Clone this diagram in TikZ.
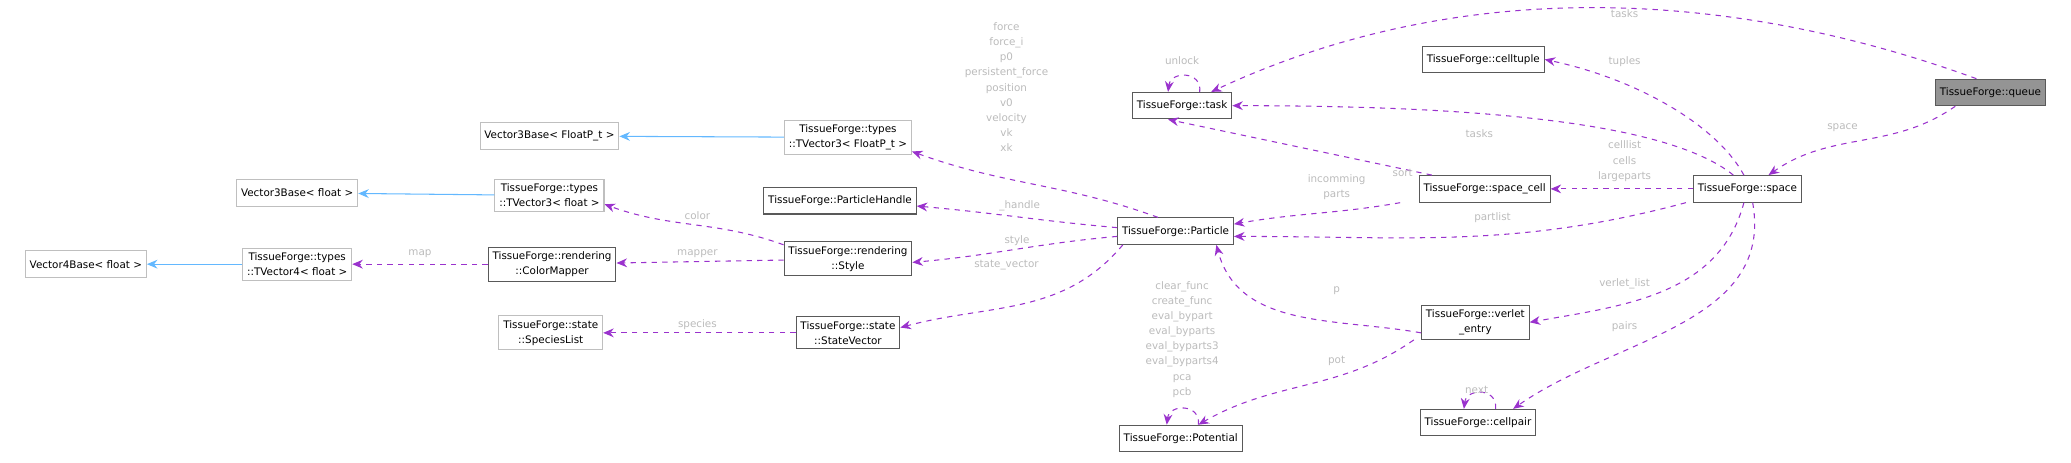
\documentclass[tikz,border=0pt]{standalone}
\usepackage{fontspec}
\setmainfont{DejaVu Sans}
\usetikzlibrary{arrows.meta}
\definecolor{edgepurple}{HTML}{9A32CD}
\definecolor{edgeblue}{HTML}{63B8FF}
\definecolor{lblgray}{HTML}{BBBBBB}
\begin{document}
\begin{tikzpicture}[
    x=0.0264cm, y=-0.0264cm,
    font=\fontsize{5.9}{8.6}\selectfont,
    cls/.style={draw=black!65, fill=white, semithick, minimum height=0.53cm, inner sep=2.5pt, align=center},
    ext/.style={cls, draw=black!25},
    cur/.style={cls, fill=black!42},
    usage/.style={-{Stealth[length=6pt,width=5pt]}, edgepurple, dashed, semithick},
    inherit/.style={-{Stealth[length=6pt,width=5pt]}, edgeblue, semithick},
    lbl/.style={text=lblgray, align=center, inner sep=0pt}
]
\useasboundingbox (0,0) rectangle (1568,350);

\node[cur] (queue) at (1507,70) {TissueForge::queue};
\node[cls] (task) at (895,80) {TissueForge::task};
\node[cls] (celltuple) at (1123,45) {TissueForge::celltuple};
\node[cls] (spacecell) at (1124,143) {TissueForge::space\_cell};
\node[cls] (space) at (1323,143) {TissueForge::space};
\node[cls] (particle) at (890,175) {TissueForge::Particle};
\node[cls] (handle) at (636,152) {TissueForge::ParticleHandle};
\node[ext] (tvecfp) at (642,104) {TissueForge::types\\::TVector3< FloatP\_t >};
\node[ext] (basefp) at (416,103) {Vector3Base< FloatP\_t >};
\node[ext] (tvecf) at (416,148) {TissueForge::types\\::TVector3< float >};
\node[ext] (basef) at (225,146) {Vector3Base< float >};
\node[cls] (style) at (642,196) {TissueForge::rendering\\::Style};
\node[cls] (mapper) at (418,200) {TissueForge::rendering\\::ColorMapper};
\node[ext] (tvec4) at (225,200) {TissueForge::types\\::TVector4< float >};
\node[ext] (base4) at (65,200) {Vector4Base< float >};
\node[ext] (species) at (417,252) {TissueForge::state\\::SpeciesList};
\node[cls] (statevec) at (642,252) {TissueForge::state\\::StateVector};
\node[cls] (verlet) at (1117,244) {TissueForge::verlet\\\_entry};
\node[cls] (potential) at (894,332) {TissueForge::Potential};
\node[cls] (cellpair) at (1119,320) {TissueForge::cellpair};

% inheritance
\draw[inherit] (tvecfp) -- (basefp);
\draw[inherit] (tvecf) -- (basef);
\draw[inherit] (tvec4) -- (base4);

% members
\draw[usage] ([xshift=-8pt]queue.north) to[out=160,in=25,looseness=0.9] ([xshift=-12pt]task.north east);
\draw[usage] ([xshift=-20pt]queue.south) to[out=-145,in=35] ([xshift=12pt]space.north);
\draw[usage] ([xshift=-2pt]space.north) .. controls (1300,95) and (1240,60) .. (celltuple.east);
\draw[usage] ([xshift=-8pt]space.north) .. controls (1260,90) and (1100,80) .. (task.east);
\draw[usage] (space) -- (spacecell);
\draw[usage] ([xshift=-35pt]space.south) to[out=195,in=0] ([yshift=-3pt]particle.east);
\draw[usage] ([xshift=-2pt]space.south) to[out=-105,in=10] (verlet.east);
\draw[usage] ([xshift=3pt]space.south) to[out=-80,in=35] ([xshift=20pt]cellpair.north);
\draw[usage] ([xshift=-30pt]spacecell.north) -- ([xshift=-8pt]task.south);
\draw[usage] ([xshift=-48pt]spacecell.south) to[out=190,in=10] ([yshift=4pt]particle.east);
\draw[usage] ([xshift=10pt]task.north) .. controls +(2,-16) and +(2,-16) .. ([xshift=-8pt]task.north);
\draw[usage] ([xshift=-10pt]particle.north) to[out=160,in=-20] ([yshift=-8pt]tvecfp.east);
\draw[usage] ([yshift=2pt]particle.west) to[out=175,in=-5] ([yshift=-3pt]handle.east);
\draw[usage] ([yshift=-3pt]particle.west) to[out=185,in=5] ([yshift=-2pt]style.east);
\draw[usage] ([xshift=-30pt]particle.south) to[out=-130,in=15] ([yshift=3pt]statevec.east);
\draw[usage] ([yshift=-6pt]verlet.west) to[out=170,in=-75] ([xshift=-10pt]particle.south east);
\draw[usage] ([xshift=-35pt]verlet.south) to[out=-145,in=30] ([xshift=10pt]potential.north);
\draw[usage] ([xshift=10pt]potential.north) .. controls +(2,-16) and +(2,-16) .. ([xshift=-8pt]potential.north);
\draw[usage] ([xshift=10pt]cellpair.north) .. controls +(2,-16) and +(2,-16) .. ([xshift=-8pt]cellpair.north);
\draw[usage] ([yshift=8pt]style.west) to[out=160,in=-20] ([yshift=-5pt]tvecf.east);
\draw[usage] (style) -- (mapper);
\draw[usage] (mapper) -- (tvec4);
\draw[usage] (statevec) -- (species);

% labels
\node[lbl] (ltasksq) at (1230,10) {tasks};
\node[lbl] (lunlock) at (895,46) {unlock};
\node[lbl] (ltuples) at (1230,47) {tuples};
\node[lbl] (ltasks) at (1120,101) {tasks};
\node[lbl] (lsort) at (1062,131) {sort};
\node[lbl] (lcells) at (1230,122) {celllist\\cells\\largeparts};
\node[lbl] (lparts) at (1012,142) {incomming\\parts};
\node[lbl] (lpartlist) at (1130,165) {partlist};
\node[lbl] (lspace) at (1395,97) {space};
\node[lbl] (lverlet) at (1230,215) {verlet\_list};
\node[lbl] (lpairs) at (1230,247) {pairs};
\node[lbl] (lp) at (1012,220) {p};
\node[lbl] (lpot) at (1012,273) {pot};
\node[lbl] (lfunc) at (895,257) {clear\_func\\create\_func\\eval\_bypart\\eval\_byparts\\eval\_byparts3\\eval\_byparts4\\pca\\pcb};
\node[lbl] (lnext) at (1118,295) {next};
\node[lbl] (lforce) at (762,66) {force\\force\_i\\p0\\persistent\_force\\position\\v0\\velocity\\vk\\xk};
\node[lbl] (lhandle) at (772,156) {\_handle};
\node[lbl] (lstyle) at (770,182) {style};
\node[lbl] (lstate) at (762,201) {state\_vector};
\node[lbl] (lcolor) at (528,163) {color};
\node[lbl] (lmapper) at (528,192) {mapper};
\node[lbl] (lmap) at (318,192) {map};
\node[lbl] (lspecies) at (528,246) {species};
\end{tikzpicture}
\end{document}
